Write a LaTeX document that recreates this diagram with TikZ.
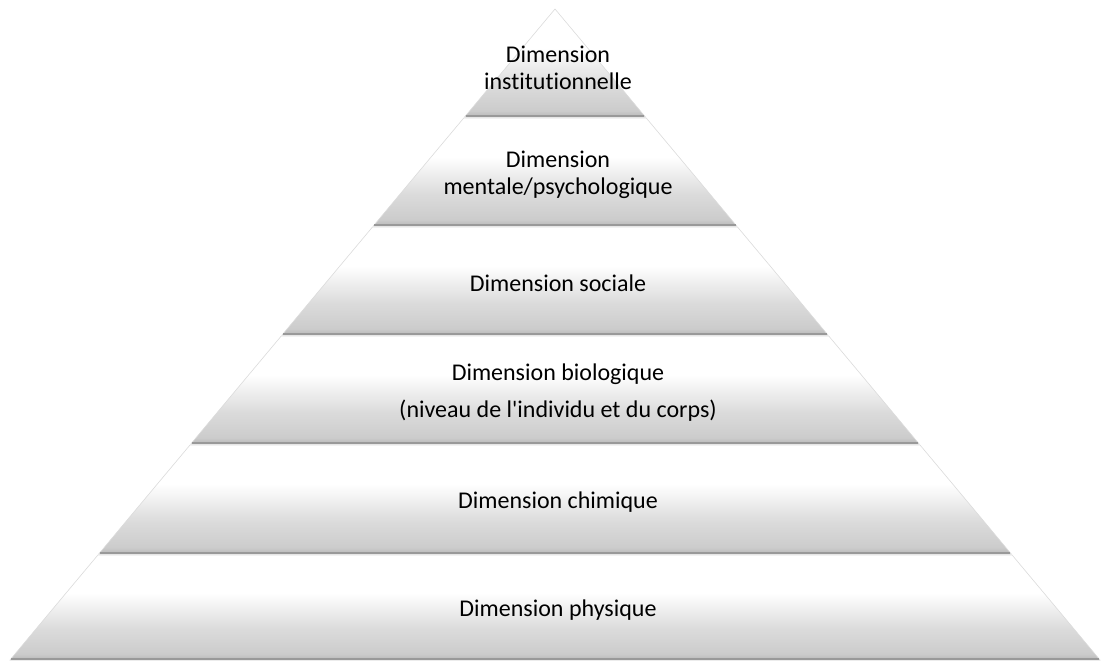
\documentclass[tikz,border=0pt]{standalone}
\usepackage{fontspec}
\setmainfont{Carlito}[Ligatures=NoCommon]
\pgfdeclareverticalshading{layershade}{100bp}{color(0bp)=(black!28); color(25bp)=(black!28);
    color(28bp)=(black!20); color(40bp)=(black!14); color(57bp)=(white); color(100bp)=(white)}
\begin{document}
\begin{tikzpicture}[x=1pt, y=-1pt,
    layer/.style={shading=layershade, draw=black!14, line width=0.6pt},
    label/.style={align=center, font=\fontsize{24}{27}\selectfont, text=black}]
    \useasboundingbox (0,0) rectangle (1104,664);

    % Draw layers (top y / bottom y), sides follow the pyramid slope
    \foreach \t/\b in {9/117, 118/226, 227/335, 336/444, 445/554, 555/660} {
        \pgfmathsetmacro{\wt}{(\t-9)/651*545}
        \pgfmathsetmacro{\wb}{(\b-9)/651*545}
        \shade[layer] (555-\wt, \t) -- (555+\wt, \t)
            -- (555+\wb, \b) -- (555-\wb, \b) -- cycle;
        \draw[black!40, line width=1.8pt] (556-\wb, \b-0.9) -- (554+\wb, \b-0.9);
    }

    % Draw labels
    \node[label] (inst) at (558, 68) {Dimension\\institutionnelle};
    \node[label] (ment) at (558, 175) {Dimension\\mentale/psychologique};
    \node[label] (soc) at (558, 283) {Dimension sociale};
    \node[label] (bio) at (558, 393) {Dimension biologique\\[10pt](niveau de l\textquotesingle individu et du corps)};
    \node[label] (chim) at (558, 502) {Dimension chimique};
    \node[label] (phys) at (558, 610) {Dimension physique};
\end{tikzpicture}
\end{document}
